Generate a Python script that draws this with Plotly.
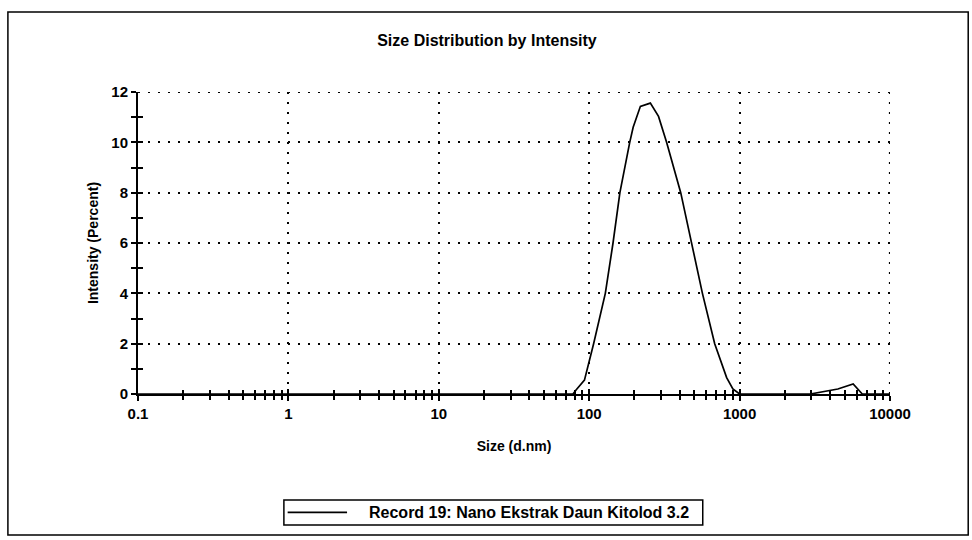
import plotly.graph_objects as go

# Data
size_nm = [0.1, 1, 10, 50, 78, 82, 93, 107, 128, 144, 160, 186, 196, 219, 255, 289,
           327, 406, 478, 566, 683, 820, 902, 1000, 2000, 2950, 4500, 5690, 6540, 10000]
intensity = [0, 0, 0, 0, 0, 0.17, 0.55, 2, 4, 6, 8, 10, 10.6, 11.43, 11.56, 11.03,
             10, 8, 6, 4, 2, 0.65, 0.2, 0, 0, 0, 0.2, 0.4, 0, 0]
series_name = "Record 19: Nano Ekstrak Daun Kitolod 3.2"
x_ticks = [0.1, 1, 10, 100, 1000, 10000]
x_tick_labels = ["0.1", "1", "10", "100", "1000", "10000"]
y_ticks = [0, 2, 4, 6, 8, 10, 12]

FONT = "Liberation Sans, Arial, sans-serif"
LINE = dict(color="black", width=1.7)

fig = go.Figure()
fig.add_trace(go.Scatter(x=size_nm, y=intensity, mode="lines", name=series_name,
                         line=LINE, showlegend=False))

DOT = "2px,8px"
grid = dict(showgrid=True, gridcolor="black", gridwidth=2.2, griddash=DOT)

fig.update_layout(
    width=972, height=540,
    paper_bgcolor="white", plot_bgcolor="white",
    margin=dict(l=138, r=82, t=92, b=146),
    title=dict(text="<b>Size Distribution by Intensity</b>", x=0.501, xanchor="center",
               y=0.926, yanchor="middle", font=dict(family=FONT, size=16, color="black")),
    font=dict(family=FONT, color="black"),
    xaxis=dict(type="log", range=[-1, 4], tickvals=x_ticks,
               ticktext=[f"<b>{t}</b>" for t in x_tick_labels],
               ticks="outside", ticklen=5, tickwidth=1.5, tickcolor="black",
               showline=True, linecolor="black", linewidth=2, zeroline=False,
               automargin=False,
               tickfont=dict(size=15, family=FONT, color="black"),
               minor=dict(ticks="outside", ticklen=4, tickwidth=1.5, tickcolor="black",
                          dtick="D1", showgrid=False),
               title=dict(text="<b>Size (d.nm)</b>", font=dict(size=14, family=FONT), standoff=20),
               **grid),
    yaxis=dict(range=[0, 12], tickvals=y_ticks, ticktext=[f"<b>{t}</b>" for t in y_ticks],
               ticks="outside", ticklen=5, tickwidth=1.5, tickcolor="black",
               showline=True, linecolor="black", linewidth=2, zeroline=False,
               automargin=False,
               tickfont=dict(size=15, family=FONT, color="black"),
               minor=dict(ticks="outside", ticklen=5, tickwidth=1.5, tickcolor="black",
                          dtick=1, showgrid=False),
               title=dict(text="<b>Intensity (Percent)</b>", font=dict(size=14, family=FONT), standoff=9),
               **grid),
    xaxis2=dict(type="log", range=[-1, 4], overlaying="x", anchor="y", side="bottom",
                tickvals=x_ticks, showticklabels=False, ticks="inside", ticklen=5,
                tickwidth=1.5, tickcolor="black", showgrid=False, zeroline=False, showline=False,
                minor=dict(ticks="inside", ticklen=4, tickwidth=1.5, tickcolor="black", dtick="D1")),
    yaxis2=dict(range=[0, 12], overlaying="y", anchor="x", side="left",
                tickvals=y_ticks, showticklabels=False, ticks="inside", ticklen=5,
                tickwidth=1.5, tickcolor="black", showgrid=False, zeroline=False, showline=False,
                minor=dict(ticks="inside", ticklen=5, tickwidth=1.5, tickcolor="black", dtick=1)),
)

# invisible trace so the overlay axes are drawn
fig.add_trace(go.Scatter(x=[size_nm[0]], y=[intensity[0]], xaxis="x2", yaxis="y2",
                         mode="markers", marker=dict(opacity=0), showlegend=False, hoverinfo="skip"))

# dotted gridlines on the range edges (top and right)
fig.add_shape(type="line", xref="paper", yref="y", x0=0, x1=1, y0=y_ticks[-1], y1=y_ticks[-1],
              line=dict(color="black", width=2.2, dash=DOT), layer="below")
fig.add_shape(type="line", xref="x", yref="paper", x0=x_ticks[-1], x1=x_ticks[-1], y0=0, y1=1,
              line=dict(color="black", width=2.2, dash=DOT), layer="below")

# outer frame
fig.add_shape(type="rect", xref="paper", yref="paper", x0=-0.173, x1=1.104, y0=-0.467, y1=1.265,
              line=dict(color="black", width=1.5), layer="below")

# legend box (compact boxed key as in the original)
fig.add_shape(type="rect", xref="paper", yref="paper", x0=0.194, x1=0.751, y0=-0.434, y1=-0.351,
              line=dict(color="black", width=1.5), fillcolor="white")
fig.add_shape(type="line", xref="paper", yref="paper", x0=0.199, x1=0.278, y0=-0.392, y1=-0.392,
              line=LINE)
fig.add_annotation(xref="paper", yref="paper", x=0.3045, y=-0.392, xanchor="left", yanchor="middle",
                   text=f"<b>{series_name}</b>", showarrow=False,
                   font=dict(family=FONT, size=16, color="black"))

# remove the browser's default 8px body margin so the figure fills the window exactly
fig.write_html("out.html", config={"displayModeBar": False},
               post_script="document.body.style.margin='0px';document.body.style.overflow='hidden';")
